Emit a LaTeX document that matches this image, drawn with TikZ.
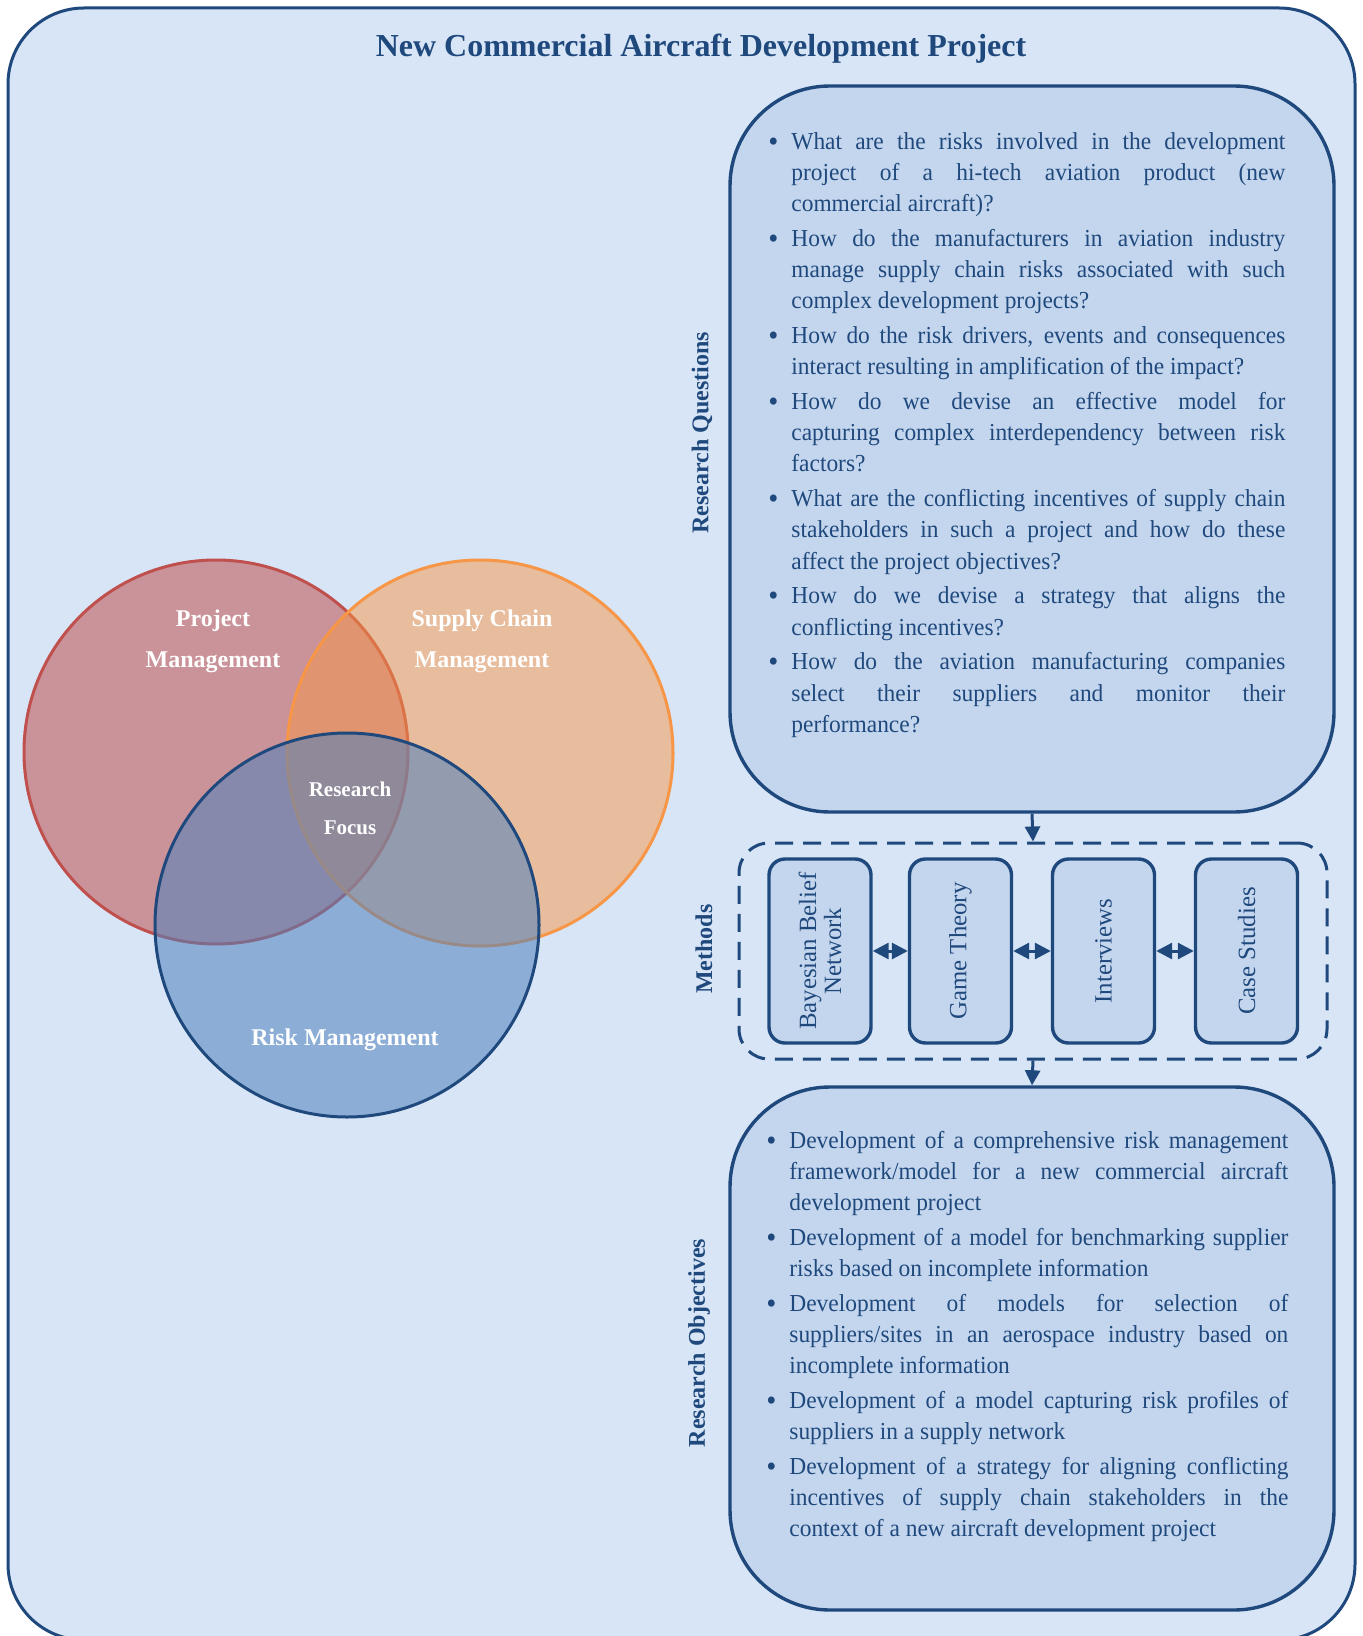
\documentclass[tikz,border=0pt]{standalone}
\usepackage{fontspec}
\setmainfont{Liberation Serif}
\newfontfamily\bodyfont[FakeStretch=0.96]{Liberation Serif}
\usepackage{enumitem}
\usetikzlibrary{arrows.meta,positioning}

\definecolor{navy}{HTML}{1F497D}
\definecolor{paleblue}{HTML}{D8E5F6}
\definecolor{boxblue}{HTML}{C4D6EE}
\definecolor{pmred}{HTML}{C0504D}
\definecolor{scorange}{HTML}{F79646}
\definecolor{rmblue}{HTML}{4F81BD}

\newcommand{\plainpar}{\parskip=0pt\hyphenpenalty=10000\exhyphenpenalty=10000\tolerance=10000}
\newcommand{\bigbullet}{\raisebox{-1pt}{\fontsize{15}{15}\selectfont\textbullet}}

\begin{document}
\begin{tikzpicture}[x=0.5pt,y=-0.5pt,
    bigbox/.style={draw=navy,line width=1.7pt,fill=boxblue,rounded corners=50pt,minimum width=302pt},
    methodbox/.style={draw=navy,line width=1.7pt,fill=boxblue,rounded corners=8pt,rotate=90,
        minimum width=92pt,minimum height=51pt,align=center,text=navy,
        font=\fontsize{12.4}{12.5}\selectfont},
    sidelabel/.style={rotate=90,text=navy,font=\bfseries\fontsize{12}{14}\selectfont},
    vennlabel/.style={text=white,align=center,font=\bfseries\fontsize{12}{20.5}\selectfont},
    link/.style={draw=navy,line width=1.5pt,-{Triangle[width=7.5pt,length=7.5pt]}},
    dbl/.style={draw=navy,line width=1.5pt,{Triangle[width=8pt,length=8pt]}-{Triangle[width=8pt,length=8pt]}},
    bullets/.style={text=navy,anchor=north west,inner sep=0pt,align=justify,
        font=\bodyfont\fontsize{12.2}{15.6}\selectfont}
]
\useasboundingbox (0,0) rectangle (1363,1636);

% outer frame and title
\draw[navy,line width=1.5pt,fill=paleblue,rounded corners=38pt] (8,8) rectangle (1355,1640);
\node[text=navy,font=\bfseries\fontsize{16}{18}\selectfont] (title) at (701,49)
    {New Commercial Aircraft Development Project};

% venn diagram
\filldraw[draw=pmred,line width=1.5pt,fill=pmred,fill opacity=0.55] (216,752) circle (96pt);
\filldraw[draw=scorange,line width=1.5pt,fill=scorange,fill opacity=0.5] (480,753) circle (96.5pt);
\filldraw[draw=navy,line width=1.5pt,fill=rmblue,fill opacity=0.55] (347,925) circle (96pt);
\node[vennlabel] (pm) at (213,641) {Project\\Management};
\node[vennlabel] (scm) at (482,641) {Supply Chain\\Management};
\node[vennlabel,font=\bfseries\fontsize{10.5}{19}\selectfont] (focus) at (350,808) {Research\\Focus};
\node[vennlabel] (rm) at (345,1040) {Risk Management};

% research questions
\node[bigbox,minimum height=363pt] (rq) at (1032,449) {};
\node[sidelabel] (rqlabel) at (702,433) {Research Questions};
\node[bullets,text width=262.5pt] (rqtext) at (760,117.5) {\plainpar
\begin{itemize}[leftmargin=15.5pt,labelsep=6.5pt,topsep=0pt,partopsep=0pt,itemsep=1.8pt,parsep=0pt,label=\bigbullet]
\item What are the risks involved in the development\linebreak project of a hi-tech aviation product (new\linebreak commercial aircraft)?
\item How do the manufacturers in aviation industry\linebreak manage supply chain risks associated with such\linebreak complex development projects?
\item How do the risk drivers, events and consequences\linebreak interact resulting in amplification of the impact?
\item How do we devise an effective model for\linebreak capturing complex interdependency between risk\linebreak factors?
\item What are the conflicting incentives of supply chain\linebreak stakeholders in such a project and how do these\linebreak affect the project objectives?
\item How do we devise a strategy that aligns the\linebreak conflicting incentives?
\item How do the aviation manufacturing companies\linebreak select their suppliers and monitor their\linebreak performance?
\end{itemize}};

% methods
\node[draw=navy,line width=1.5pt,dash pattern=on 9pt off 5pt,rounded corners=15pt,
    minimum width=294pt,minimum height=108pt] (methods) at (1033,951) {};
\node[sidelabel] (mlabel) at (704,949) {Methods};
\node[methodbox] (bbn) at (820,951) {Bayesian Belief\\Network};
\node[methodbox] (gt) at (960.5,951) {Game Theory};
\node[methodbox] (iv) at (1103.5,951) {Interviews};
\node[methodbox] (cs) at (1246.5,951) {Case Studies};
\draw[dbl] (bbn) -- (gt);
\draw[dbl] (gt) -- (iv);
\draw[dbl] (iv) -- (cs);

% research objectives
\node[bigbox,minimum height=261.5pt] (ro) at (1032,1348.5) {};
\node[sidelabel] (rolabel) at (699,1343) {Research Objectives};
\node[bullets,text width=265.5pt] (rotext) at (757,1116.5) {\plainpar
\begin{itemize}[leftmargin=16pt,labelsep=6.5pt,topsep=0pt,partopsep=0pt,itemsep=1.8pt,parsep=0pt,label=\bigbullet]
\item Development of a comprehensive risk management\linebreak framework/model for a new commercial aircraft\linebreak development project
\item Development of a model for benchmarking supplier\linebreak risks based on incomplete information
\item Development of models for selection of\linebreak suppliers/sites in an aerospace industry based on\linebreak incomplete information
\item Development of a model capturing risk profiles of\linebreak suppliers in a supply network
\item Development of a strategy for aligning conflicting\linebreak incentives of supply chain stakeholders in the\linebreak context of a new aircraft development project
\end{itemize}};

\draw[link] (rq.south) -- (methods.north);
\draw[link] (methods.south) -- (ro.north);
\end{tikzpicture}
\end{document}
